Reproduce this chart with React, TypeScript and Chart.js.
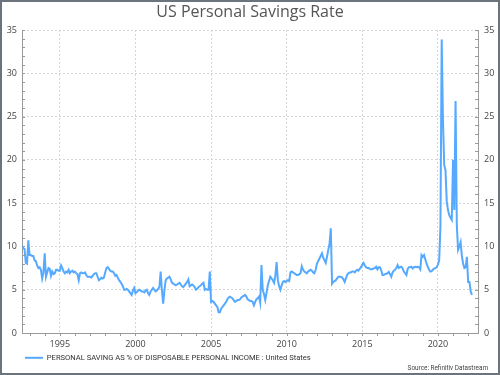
import React, { useEffect, useRef } from "react";
import { Chart, registerables } from "chart.js";

Chart.register(...registerables);

const TITLE = "US Personal Savings Rate";
const SERIES_LABEL = "PERSONAL SAVING AS % OF DISPOSABLE PERSONAL INCOME : United States";
const SOURCE = "Source: Refinitiv Datastream";
const X_TICKS = [1995, 2000, 2005, 2010, 2015, 2020];
const Y_TICKS = [0, 5, 10, 15, 20, 25, 30, 35];
const FIRST_MONTH = 7; // series starts July 1992

// Monthly values, % of disposable personal income
const y1992 = [10.1, 9.8, 9.7, 8.1, 8.0, 10.7]; // Jul-Dec
const y1993 = [9.0, 9.0, 8.9, 8.9, 8.4, 8.3, 7.8, 7.5, 7.6, 7.3, 6.3, 7.0];
const y1994 = [9.2, 6.5, 7.0, 7.5, 7.4, 6.6, 7.1, 6.8, 6.9, 7.3, 7.3, 7.2];
const y1995 = [7.2, 7.8, 7.5, 7.1, 6.9, 7.1, 7.0, 7.3, 6.9, 7.1, 7.2, 7.0];
const y1996 = [7.1, 6.9, 6.8, 6.1, 6.9, 7.0, 6.9, 6.9, 7.0, 6.7, 6.5, 6.5];
const y1997 = [6.5, 6.4, 6.6, 6.8, 6.9, 6.9, 6.5, 6.1, 6.2, 6.4, 6.3, 6.4];
const y1998 = [7.0, 7.5, 7.6, 7.4, 7.2, 7.1, 7.1, 6.9, 6.6, 6.7, 6.4, 6.1];
const y1999 = [5.9, 5.7, 5.4, 5.0, 5.0, 5.1, 5.0, 4.8, 4.6, 4.4, 4.9, 5.2];
const y2000 = [4.6, 4.7, 4.9, 5.0, 4.9, 4.8, 4.8, 4.7, 4.9, 5.0, 4.6, 4.4];
const y2001 = [4.8, 5.0, 5.2, 5.0, 4.8, 4.9, 5.1, 5.3, 7.1, 5.0, 3.4, 4.9];
const y2002 = [6.1, 6.3, 6.4, 6.5, 6.2, 5.8, 5.7, 5.6, 5.5, 5.6, 5.7, 5.8];
const y2003 = [5.6, 5.4, 5.3, 5.5, 5.7, 5.9, 6.2, 5.4, 5.5, 5.6, 5.5, 5.3];
const y2004 = [5.0, 5.1, 5.3, 5.4, 5.5, 5.7, 5.8, 5.0, 5.1, 5.0, 5.0, 7.1];
const y2005 = [3.6, 3.7, 3.6, 3.4, 3.2, 3.0, 2.4, 2.4, 2.8, 3.0, 3.2, 3.4];
const y2006 = [3.6, 3.9, 4.1, 4.2, 4.1, 4.0, 3.8, 3.6, 3.7, 3.8, 3.8, 3.9];
const y2007 = [4.1, 4.2, 4.3, 4.4, 4.2, 3.9, 3.8, 3.7, 3.7, 3.6, 3.2, 3.6];
const y2008 = [3.9, 4.0, 4.2, 3.5, 7.85, 5.0, 4.5, 3.8, 4.6, 5.5, 6.0, 6.5];
const y2009 = [6.3, 6.1, 5.8, 6.6, 8.2, 6.1, 5.4, 5.0, 5.5, 5.9, 6.0, 5.9];
const y2010 = [6.0, 6.1, 6.0, 7.0, 7.1, 7.0, 6.9, 6.8, 6.7, 6.7, 6.8, 6.9];
const y2011 = [7.7, 7.3, 7.1, 7.0, 6.9, 7.1, 7.2, 7.3, 7.2, 7.0, 6.9, 7.3];
const y2012 = [8.0, 8.3, 8.6, 8.9, 9.2, 8.7, 8.4, 8.1, 8.8, 9.6, 10.3, 12.1];
const y2013 = [5.7, 5.9, 6.0, 6.1, 6.3, 6.5, 6.5, 6.5, 6.4, 6.2, 5.9, 6.3];
const y2014 = [6.7, 6.9, 7.0, 7.0, 7.1, 7.1, 7.0, 7.2, 7.3, 7.2, 7.4, 7.6];
const y2015 = [7.9, 8.1, 7.8, 7.6, 7.5, 7.5, 7.4, 7.35, 7.4, 7.45, 7.5, 7.65];
const y2016 = [7.35, 7.6, 7.6, 7.25, 6.7, 6.7, 6.8, 6.85, 6.9, 7.05, 6.8, 6.5];
const y2017 = [7.0, 7.2, 7.3, 7.5, 7.85, 7.5, 7.6, 7.65, 7.45, 7.1, 6.9, 6.7];
const y2018 = [7.4, 7.6, 7.6, 7.65, 7.45, 7.6, 7.65, 7.6, 7.65, 7.6, 7.35, 9.0];
const y2019 = [8.8, 9.0, 8.5, 8.0, 7.65, 7.3, 7.1, 7.15, 7.3, 7.45, 7.5, 7.6];
const y2020 = [7.9, 8.4, 12.3, 33.9, 24.6, 19.4, 18.8, 15.2, 14.2, 13.6, 13.3, 13.05];
const y2021 = [20.0, 14.2, 26.8, 12.4, 9.6, 10.0, 10.5, 8.9, 8.0, 7.5, 7.6, 8.8];
const y2022 = [5.9, 5.9, 4.8, 4.4]; // Jan-Apr

const YEARS: [number, number[]][] = [
  [1992, y1992], [1993, y1993], [1994, y1994], [1995, y1995], [1996, y1996],
  [1997, y1997], [1998, y1998], [1999, y1999], [2000, y2000], [2001, y2001],
  [2002, y2002], [2003, y2003], [2004, y2004], [2005, y2005], [2006, y2006],
  [2007, y2007], [2008, y2008], [2009, y2009], [2010, y2010], [2011, y2011],
  [2012, y2012], [2013, y2013], [2014, y2014], [2015, y2015], [2016, y2016],
  [2017, y2017], [2018, y2018], [2019, y2019], [2020, y2020], [2021, y2021],
  [2022, y2022],
];

const LINE_COLOR = "#55aaff";
const GRID_COLOR = "#d6d6d6";
const AXIS_COLOR = "#9a9a9a";
const TEXT_COLOR = "#444";
const FONT = "'Open Sans', sans-serif";
const SMALL_FONT = "Roboto, sans-serif";

const buildPoints = () => {
  const pts: { x: number; y: number }[] = [];
  YEARS.forEach(([yr, vals], yi) => {
    const startM = yi === 0 ? FIRST_MONTH : 1;
    vals.forEach((v, i) => {
      pts.push({ x: yr + (startM + i - 1) / 12, y: v });
    });
  });
  return pts;
};

const decorations = {
  id: "decorations",
  afterDraw(chart: any) {
    const { ctx, chartArea, scales, width } = chart;
    const { left, right, bottom } = chartArea;
    const x = scales.x;
    const y = scales.y;
    ctx.save();
    ctx.strokeStyle = AXIS_COLOR;
    ctx.lineWidth = 1;
    ctx.beginPath();
    for (let v = y.min; v <= y.max; v++) {
      const py = Math.round(y.getPixelForValue(v)) + 0.5;
      ctx.moveTo(left, py);
      ctx.lineTo(left + 3, py);
      ctx.moveTo(right, py);
      ctx.lineTo(right - 3, py);
    }
    for (let yr = Math.ceil(x.min); yr <= x.max; yr++) {
      const px = Math.round(x.getPixelForValue(yr)) + 0.5;
      ctx.moveTo(px, bottom);
      ctx.lineTo(px, bottom + 3);
    }
    ctx.stroke();
    // source note
    ctx.fillStyle = TEXT_COLOR;
    ctx.font = `6.4px ${SMALL_FONT}`;
    ctx.textAlign = "right";
    ctx.textBaseline = "middle";
    ctx.fillText(SOURCE, width - 10, 366);
    ctx.restore();
  },
};

export default function App() {
  const ref = useRef<HTMLCanvasElement | null>(null);

  useEffect(() => {
    if (!ref.current) return;
    const tickFont = { family: FONT, size: 9 };
    const chart = new Chart(ref.current, {
      type: "line",
      data: {
        datasets: [
          {
            label: SERIES_LABEL,
            data: buildPoints(),
            borderColor: LINE_COLOR,
            backgroundColor: LINE_COLOR,
            borderWidth: 2,
            pointRadius: 0,
            tension: 0,
            fill: false,
          },
        ],
      },
      options: {
        animation: false,
        responsive: false,
        maintainAspectRatio: false,
        layout: { padding: { left: 0, right: 0, top: 0, bottom: 7 } },
        plugins: {
          title: {
            display: true,
            text: TITLE,
            color: "#555",
            font: { family: FONT, size: 16, weight: "normal" },
            padding: { top: 1, bottom: 7.8 },
          },
          legend: {
            position: "bottom",
            align: "start",
            fullSize: false,
            maxHeight: 15,
            labels: {
              boxWidth: 18,
              boxHeight: 2,
              padding: 3,
              color: "#333",
              font: { family: SMALL_FONT, size: 7.6 },
              generateLabels: (c: any) => {
                const items = Chart.defaults.plugins.legend.labels.generateLabels(c);
                items.forEach((it: any) => {
                  it.lineWidth = 0;
                });
                return items;
              },
            },
          },
          tooltip: { enabled: false },
        },
        scales: {
          x: {
            type: "linear",
            min: 1992.5,
            max: 2022.65,
            afterBuildTicks: (s: any) => {
              s.ticks = X_TICKS.map((v) => ({ value: v }));
            },
            afterFit: (s: any) => {
              s.height = 18;
            },
            ticks: {
              color: TEXT_COLOR,
              font: tickFont,
              padding: 6,
              maxRotation: 0,
              autoSkip: false,
              callback: (v: any) => String(v),
            },
            grid: { color: GRID_COLOR, drawTicks: false },
            border: { color: AXIS_COLOR, dash: [2, 2] },
          },
          y: {
            position: "left",
            min: 0,
            max: 35,
            afterBuildTicks: (s: any) => {
              s.ticks = Y_TICKS.map((v) => ({ value: v }));
            },
            afterFit: (s: any) => {
              s.width = 20;
            },
            ticks: { color: TEXT_COLOR, font: tickFont, padding: 5 },
            grid: {
              color: (ctx: any) => (ctx.tick && ctx.tick.value === 0 ? "rgba(0,0,0,0)" : GRID_COLOR),
              drawTicks: false,
            },
            border: { color: AXIS_COLOR, dash: [2, 2] },
          },
          y2: {
            position: "right",
            min: 0,
            max: 35,
            afterBuildTicks: (s: any) => {
              s.ticks = Y_TICKS.map((v) => ({ value: v }));
            },
            afterFit: (s: any) => {
              s.width = 20;
            },
            ticks: { color: TEXT_COLOR, font: tickFont, padding: 6 },
            grid: { drawOnChartArea: false, drawTicks: false },
            border: { color: AXIS_COLOR },
          },
        },
      } as any,
      plugins: [decorations],
    });
    return () => chart.destroy();
  }, []);

  return (
    <div
      style={{
        position: "fixed",
        left: 0,
        top: 0,
        width: 500,
        height: 375,
        boxSizing: "border-box",
        border: "2px solid #6b737c",
        background: "#fff",
      }}
    >
      <canvas ref={ref} width={496} height={371} style={{ display: "block", width: 496, height: 371 }} />
    </div>
  );
}
